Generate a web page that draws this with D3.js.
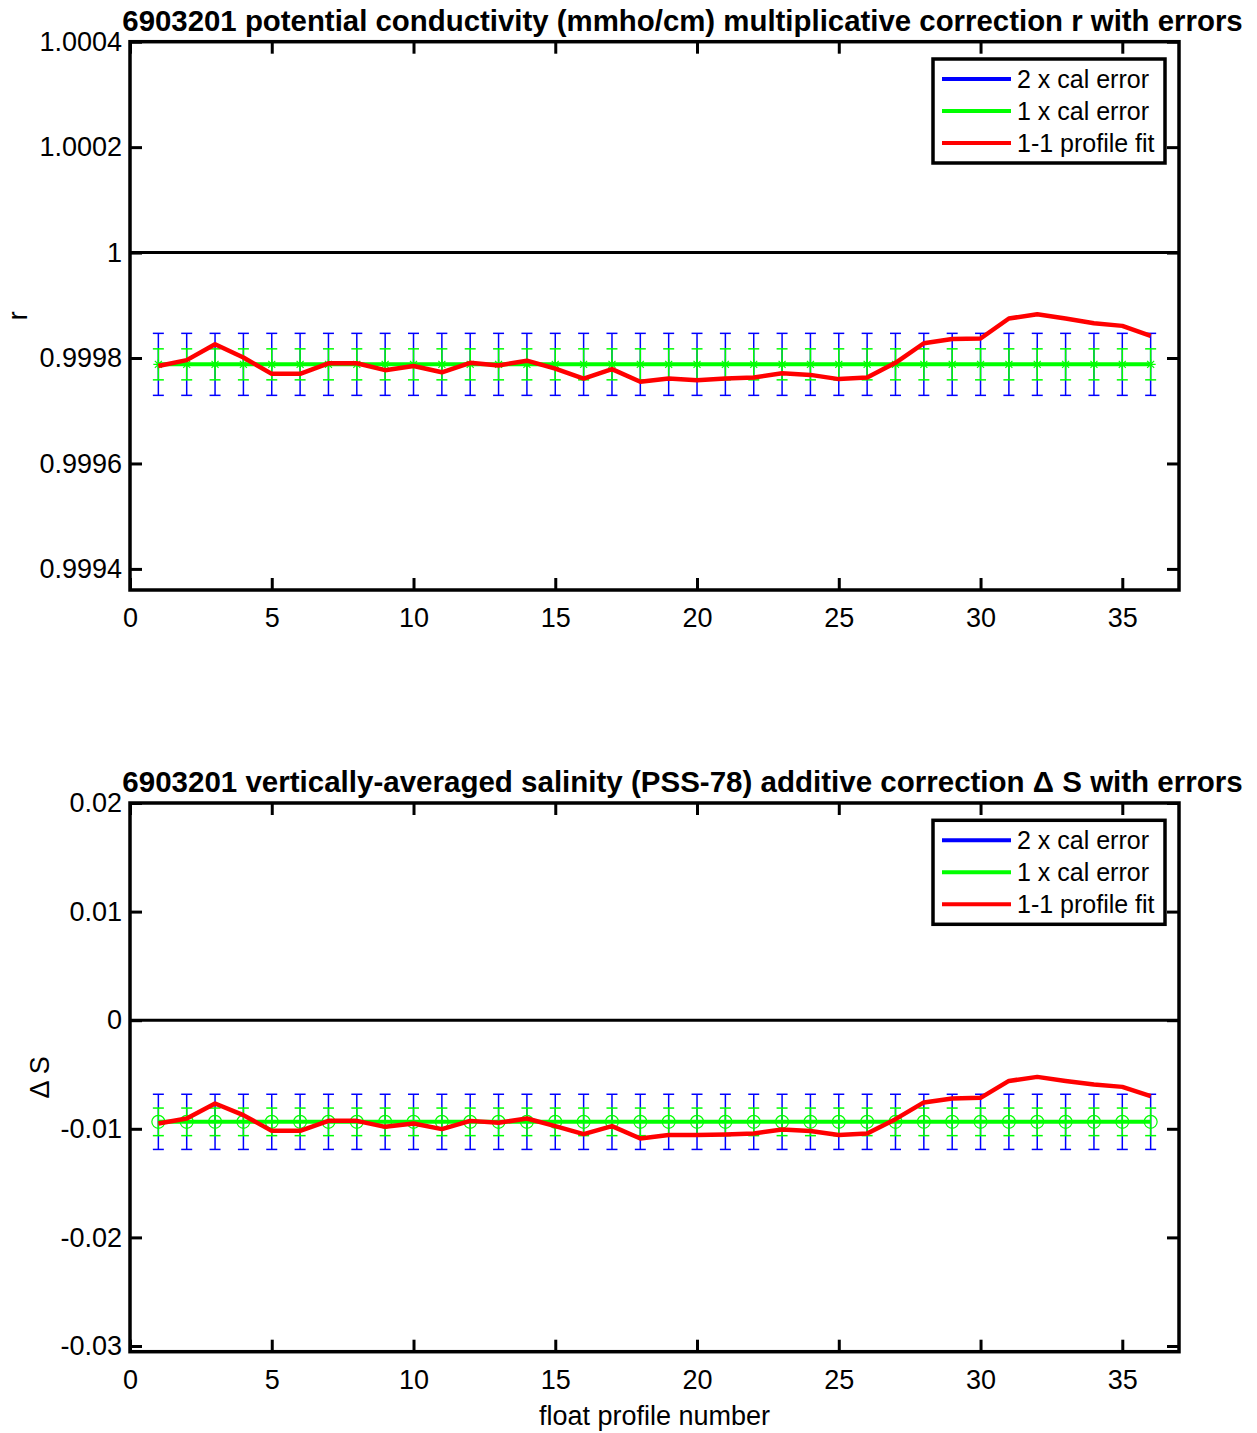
<!DOCTYPE html>
<html><head><meta charset="utf-8">
<script src="https://cdn.jsdelivr.net/npm/d3@7"></script>
<style>body{margin:0;background:#fff}svg{display:block}text{font-family:"Liberation Sans",Arial,sans-serif}</style>
</head><body>
<script>
const profiles = [1,2,3,4,5,6,7,8,9,10,11,12,13,14,15,16,17,18,19,20,21,22,23,24,25,26,27,28,29,30,31,32,33,34,35,36];
const xTicks = [0,5,10,15,20,25,30,35];

// top panel: multiplicative correction r
const rFit = [0.999785,0.999796,0.999826,0.999801,0.999770,0.999770,0.999790,0.999790,0.999777,0.999785,0.999773,0.999791,0.999786,0.999795,0.999780,0.999761,0.999779,0.999755,0.999761,0.999758,0.999761,0.999763,0.999771,0.999768,0.999760,0.999763,0.999791,0.999828,0.999836,0.999837,0.999875,0.999883,0.999875,0.999866,0.999861,0.999842];
const rCal = [0.999788,0.999788,0.999788,0.999788,0.999788,0.999788,0.999788,0.999788,0.999788,0.999788,0.999788,0.999788,0.999788,0.999788,0.999788,0.999788,0.999788,0.999788,0.999788,0.999788,0.999788,0.999788,0.999788,0.999788,0.999788,0.999788,0.999788,0.999788,0.999788,0.999788,0.999788,0.999788,0.999788,0.999788,0.999788,0.999788];
const rErr = [0.0000294,0.0000294,0.0000294,0.0000294,0.0000294,0.0000294,0.0000294,0.0000294,0.0000294,0.0000294,0.0000294,0.0000294,0.0000294,0.0000294,0.0000294,0.0000294,0.0000294,0.0000294,0.0000294,0.0000294,0.0000294,0.0000294,0.0000294,0.0000294,0.0000294,0.0000294,0.0000294,0.0000294,0.0000294,0.0000294,0.0000294,0.0000294,0.0000294,0.0000294,0.0000294,0.0000294];
const rTicks = [0.9994,0.9996,0.9998,1,1.0002,1.0004];
const rTickLabels = ["0.9994","0.9996","0.9998","1","1.0002","1.0004"];

// bottom panel: additive correction ΔS
const sFit = [-0.00951,-0.00905,-0.00767,-0.00874,-0.01019,-0.01019,-0.00927,-0.00927,-0.00982,-0.00951,-0.01003,-0.00927,-0.00945,-0.00905,-0.00975,-0.01049,-0.00975,-0.01089,-0.01058,-0.01058,-0.01052,-0.01043,-0.01006,-0.01021,-0.01058,-0.01043,-0.00911,-0.00757,-0.00721,-0.00715,-0.00559,-0.00522,-0.00559,-0.00592,-0.00614,-0.00699];
const sCal = [-0.00936,-0.00936,-0.00936,-0.00936,-0.00936,-0.00936,-0.00936,-0.00936,-0.00936,-0.00936,-0.00936,-0.00936,-0.00936,-0.00936,-0.00936,-0.00936,-0.00936,-0.00936,-0.00936,-0.00936,-0.00936,-0.00936,-0.00936,-0.00936,-0.00936,-0.00936,-0.00936,-0.00936,-0.00936,-0.00936,-0.00936,-0.00936,-0.00936,-0.00936,-0.00936,-0.00936];
const sErr = [0.00127,0.00127,0.00127,0.00127,0.00127,0.00127,0.00127,0.00127,0.00127,0.00127,0.00127,0.00127,0.00127,0.00127,0.00127,0.00127,0.00127,0.00127,0.00127,0.00127,0.00127,0.00127,0.00127,0.00127,0.00127,0.00127,0.00127,0.00127,0.00127,0.00127,0.00127,0.00127,0.00127,0.00127,0.00127,0.00127];
const sTicks = [-0.03,-0.02,-0.01,0,0.01,0.02];
const sTickLabels = ["-0.03","-0.02","-0.01","0","0.01","0.02"];

const legendLabels = ["2 x cal error","1 x cal error","1-1 profile fit"];
const legendColors = ["#0000ff","#00ff00","#ff0000"];

const W = 1257, H = 1433;
const svg = d3.select("body").append("svg").attr("width", W).attr("height", H);

function panel(cfg) {
  const x = d3.scaleLinear().domain([0, 37]).range([130, 1179]);
  const y = d3.scaleLinear().domain(cfg.yDomain).range([cfg.bottom, cfg.top]);
  const g = svg.append("g");
  const d = profiles.map((p, i) => ({p, fit: cfg.fit[i], cal: cfg.cal[i], err: cfg.err[i]}));

  // title
  const t = g.append("text").attr("x", 682.5).attr("y", cfg.titleY)
    .attr("text-anchor", "middle").attr("font-weight", "bold").attr("font-size", 27)
    .text(cfg.title);
  const w = t.node().getComputedTextLength();
  t.attr("font-size", 27 * 1121 / w);

  // error bars
  const cap = 5.5;
  const eb = (mult, color) => {
    const gg = g.append("g").attr("stroke", color).attr("stroke-width", 1.5).attr("fill", "none");
    d.forEach(v => {
      const x0 = x(v.p), yt = y(v.cal + mult * v.err), yb = y(v.cal - mult * v.err);
      gg.append("line").attr("x1", x0).attr("x2", x0).attr("y1", yt).attr("y2", yb);
      gg.append("line").attr("x1", x0 - cap).attr("x2", x0 + cap).attr("y1", yt).attr("y2", yt);
      gg.append("line").attr("x1", x0 - cap).attr("x2", x0 + cap).attr("y1", yb).attr("y2", yb);
    });
  };
  eb(2, "#0000ff");
  eb(1, "#00ff00");

  // green line
  g.append("path").datum(d).attr("fill", "none").attr("stroke", "#00ff00").attr("stroke-width", 4)
    .attr("d", d3.line().x(v => x(v.p)).y(v => y(v.cal)));
  // markers
  const mg = g.append("g").attr("stroke", "#00ff00").attr("stroke-width", 1.2).attr("fill", "none");
  d.forEach(v => {
    const cx = x(v.p), cy = y(v.cal);
    if (cfg.marker === "star") {
      const r = 5;
      mg.append("path").attr("d",
        `M${cx - r},${cy}L${cx + r},${cy}M${cx},${cy - r}L${cx},${cy + r}` +
        `M${cx - r * 0.7},${cy - r * 0.7}L${cx + r * 0.7},${cy + r * 0.7}M${cx - r * 0.7},${cy + r * 0.7}L${cx + r * 0.7},${cy - r * 0.7}`);
    } else {
      mg.append("circle").attr("cx", cx).attr("cy", cy).attr("r", 6.5);
    }
  });

  // red fit
  g.append("path").datum(d).attr("fill", "none").attr("stroke", "#ff0000").attr("stroke-width", 4.5)
    .attr("stroke-linejoin", "round")
    .attr("d", d3.line().x(v => x(v.p)).y(v => y(v.fit)));

  // zero / unity line
  g.append("line").attr("x1", 130).attr("x2", 1179).attr("y1", y(cfg.refLine)).attr("y2", y(cfg.refLine))
    .attr("stroke", "#000").attr("stroke-width", 3);

  // axes box
  g.append("rect").attr("x", 130).attr("y", cfg.top).attr("width", 1179 - 130).attr("height", cfg.bottom - cfg.top)
    .attr("fill", "none").attr("stroke", "#000").attr("stroke-width", 3.5);

  const tl = 12;
  const axB = d3.axisBottom(x).tickValues(xTicks).tickSizeInner(-tl).tickSizeOuter(0).tickPadding(18);
  const axT = d3.axisTop(x).tickValues(xTicks).tickSizeInner(-tl).tickSizeOuter(0).tickFormat("");
  const axL = d3.axisLeft(y).tickValues(cfg.yTicks).tickSizeInner(-tl).tickSizeOuter(0).tickPadding(8)
    .tickFormat((v, i) => cfg.yTickLabels[i]);
  const axR = d3.axisRight(y).tickValues(cfg.yTicks).tickSizeInner(-tl).tickSizeOuter(0).tickFormat("");
  const style = sel => {
    sel.select(".domain").remove();
    sel.selectAll(".tick line").attr("stroke", "#000").attr("stroke-width", 3);
    sel.selectAll(".tick text").attr("fill", "#000").attr("font-size", 27)
      .attr("font-family", '"Liberation Sans",Arial,sans-serif');
  };
  g.append("g").attr("transform", `translate(0,${cfg.bottom})`).call(axB).call(style);
  g.append("g").attr("transform", `translate(0,${cfg.top})`).call(axT).call(style);
  g.append("g").attr("transform", `translate(130,0)`).call(axL).call(style);
  g.append("g").attr("transform", `translate(1179,0)`).call(axR).call(style);

  // y label
  g.append("text").attr("transform", `translate(${cfg.ylabelX},${(cfg.top + cfg.bottom) / 2}) rotate(-90)`)
    .attr("text-anchor", "middle").attr("font-size", 27).text(cfg.ylabel);

  // legend
  const lt = cfg.top + 17.3;
  const lg = g.append("g");
  lg.append("rect").attr("x", 933).attr("y", lt).attr("width", 232).attr("height", 104)
    .attr("fill", "#fff").attr("stroke", "#000").attr("stroke-width", 3.5);
  legendLabels.forEach((lab, i) => {
    const yy = lt + 20 + i * 32;
    lg.append("line").attr("x1", 942).attr("x2", 1011).attr("y1", yy).attr("y2", yy)
      .attr("stroke", legendColors[i]).attr("stroke-width", 4);
    lg.append("text").attr("x", 1017).attr("y", yy + 9).attr("font-size", 25).text(lab);
  });
}

panel({
  top: 41.7, bottom: 590, yDomain: [0.99936, 1.0004], yTicks: rTicks, yTickLabels: rTickLabels,
  fit: rFit, cal: rCal, err: rErr, refLine: 1, marker: "star",
  title: "6903201 potential conductivity (mmho/cm) multiplicative correction r with errors",
  titleY: 31, ylabel: "r", ylabelX: 27
});
panel({
  top: 803, bottom: 1351.7, yDomain: [-0.030525, 0.02], yTicks: sTicks, yTickLabels: sTickLabels,
  fit: sFit, cal: sCal, err: sErr, refLine: 0, marker: "circle",
  title: "6903201 vertically-averaged salinity (PSS-78) additive correction \u0394 S with errors",
  titleY: 792, ylabel: "\u0394 S", ylabelX: 49
});

svg.append("text").attr("x", 654.5).attr("y", 1425).attr("text-anchor", "middle").attr("font-size", 27)
  .text("float profile number");
</script>
</body></html>
